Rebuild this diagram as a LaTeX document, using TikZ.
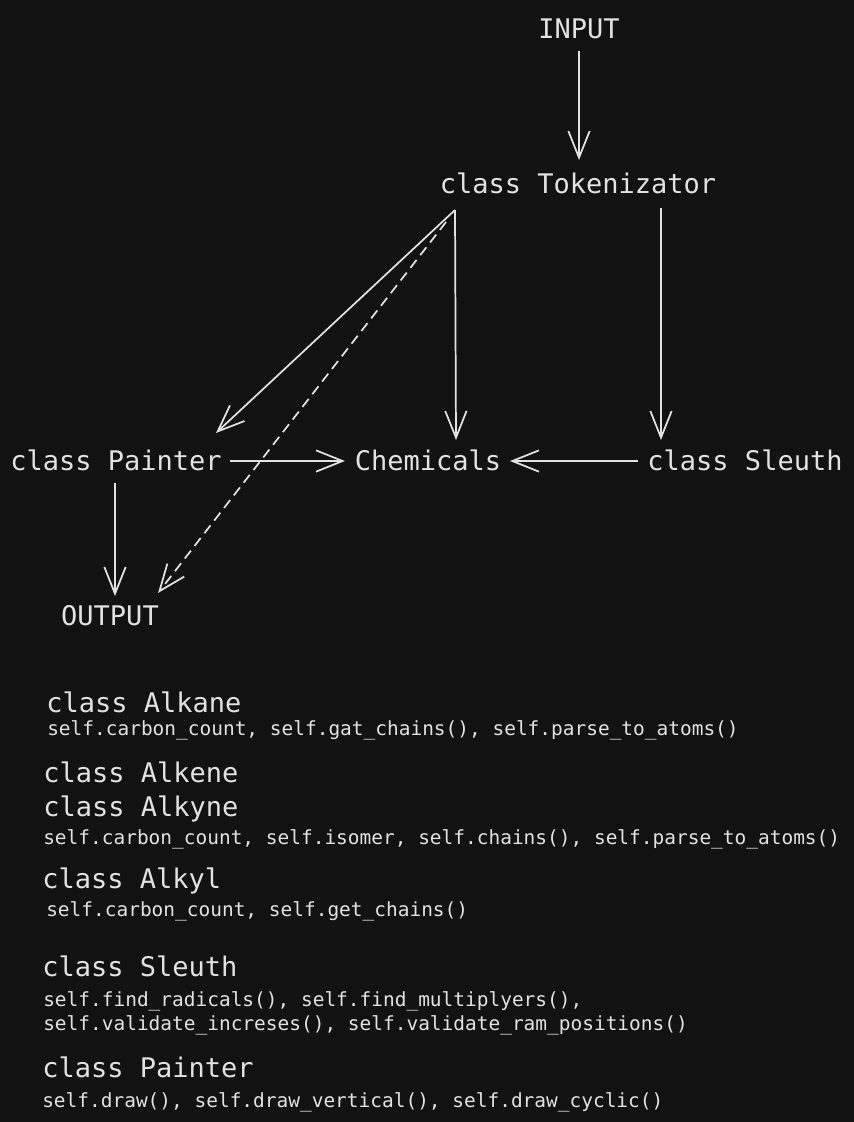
\documentclass[tikz,border=0pt]{standalone}
\usepackage{fontspec}
\setmonofont{DejaVu Sans Mono}
\usetikzlibrary{arrows.meta,calc}

\definecolor{bg}{RGB}{18,18,18}
\definecolor{fg}{RGB}{226,226,226}

\tikzset{
  big/.style={font=\ttfamily\fontsize{20.25}{24}\selectfont, text=fg, inner sep=0pt, anchor=base},
  small/.style={font=\ttfamily\fontsize{14.6}{18}\selectfont, text=fg, inner sep=0pt, anchor=base west},
  arr/.style={draw=fg, line width=1.3pt, -{Straight Barb[length=20pt,width=16pt,line width=1.3pt]}},
}

\begin{document}
\begin{tikzpicture}[x=0.75pt,y=-0.75pt]

% Background
\fill[bg] (0,0) rectangle (854,1122);
\useasboundingbox (0,0) rectangle (854,1122);

% Flow nodes
\node[big] (input) at (579,38) {INPUT};
\node[big] (tok) at (578,193) {class Tokenizator};
\node[big] (painter) at (116,470) {class Painter};
\node[big] (chem) at (428,470) {Chemicals};
\node[big] (sleuth) at (745,470) {class Sleuth};
\node[big] (output) at (110,625) {OUTPUT};

% Arrows
\draw[arr] ($(input.base)+(0,13)$) -- ($(tok.base)+(1,-33)$);
\draw[arr] ($(tok.base)+(-123,17)$) -- ($(painter.base)+(100,-37)$);
\draw[arr] ($(tok.base)+(-123,17)$) -- ($(chem.base)+(28,-30)$);
\draw[arr, dash pattern=on 7.5pt off 4.5pt] ($(tok.base)+(-132,29)$) -- ($(output.base)+(48,-32)$);
\draw[arr] ($(tok.base)+(83,15)$) -- ($(sleuth.base)+(-84,-30)$);
\draw[arr] ($(sleuth.base)+(-107,-9)$) -- ($(chem.base)+(82,-9)$);
\draw[arr] ($(painter.base)+(114,-9)$) -- ($(chem.base)+(-83,-9)$);
\draw[arr] ($(painter.base)+(-1,13)$) -- ($(output.base)+(5,-29)$);

% Class notes
\node[big, anchor=base west] (alkane) at (46,712) {class Alkane};
\node[small] (alkaneF) at (47,735) {self.carbon\_count, self.gat\_chains(), self.parse\_to\_atoms()};
\node[big, anchor=base west] (alkene) at (43,782) {class Alkene};
\node[big, anchor=base west] (alkyne) at (43,816) {class Alkyne};
\node[small] (alkyneF) at (43,844) {self.carbon\_count, self.isomer, self.chains(), self.parse\_to\_atoms()};
\node[big, anchor=base west] (alkyl) at (42,888) {class Alkyl};
\node[small] (alkylF) at (46,916) {self.carbon\_count, self.get\_chains()};
\node[big, anchor=base west] (sleuthC) at (42,976) {class Sleuth};
\node[small] (sleuthF) at (43,1006) {self.find\_radicals(), self.find\_multiplyers(),};
\node[small] (sleuthG) at (43,1030) {self.validate\_increses(), self.validate\_ram\_positions()};
\node[big, anchor=base west] (painterC) at (42,1077) {class Painter};
\node[small] (painterF) at (42,1107) {self.draw(), self.draw\_vertical(), self.draw\_cyclic()};

\end{tikzpicture}
\end{document}
